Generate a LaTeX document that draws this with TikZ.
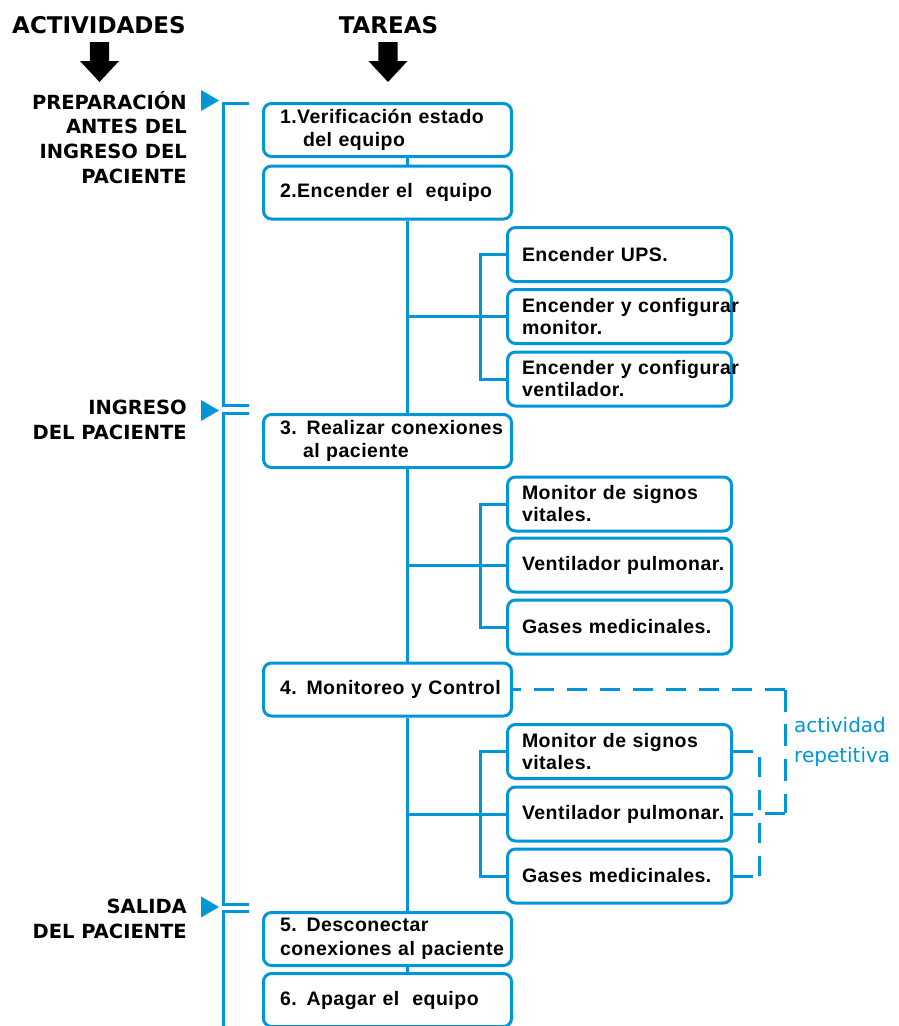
\documentclass[tikz,border=0pt]{standalone}
\usepackage{fontspec}
\setmainfont{Liberation Sans}
\newfontfamily\boxfont{Liberation Sans}[LetterSpace=2.5]
\newfontfamily\headfont{DejaVu Sans}
\definecolor{lineblue}{RGB}{0,150,215}
\begin{document}
\begin{tikzpicture}[x=1pt, y=-1pt]
    \tikzset{
      mainbox/.style={draw=lineblue, line width=3pt, rounded corners=8pt,
        minimum width=248pt, minimum height=53pt, inner xsep=16.5pt, inner ysep=2pt,
        text width=215pt, align=left,
        font=\boxfont\bfseries\fontsize{19.5}{23.5}\selectfont},
      subbox/.style={mainbox, minimum width=224pt, minimum height=54pt,
        inner xsep=14.5pt, text width=195pt,
        font=\boxfont\bfseries\fontsize{19.5}{22}\selectfont},
      link/.style={lineblue, line width=3pt},
      repeatlink/.style={link, dash pattern=on 20pt off 13pt},
      actlabel/.style={font=\headfont\bfseries\fontsize{19.5}{24.7}\selectfont,
        align=right, inner sep=0pt},
      headlabel/.style={font=\headfont\bfseries\fontsize{23}{27}\selectfont, inner sep=0pt}
    }
    \useasboundingbox (0,0) rectangle (898,1026);
    % headings
    \node[headlabel] (act) at (99,25) {ACTIVIDADES};
    \node[headlabel] (tar) at (388.5,25) {TAREAS};
    \foreach \x in {99.5,388}
      \fill (\x-9.7,42) -- (\x+9.7,42) -- (\x+9.7,61) -- (\x+19.5,61)
        -- (\x,82) -- (\x-19.5,61) -- (\x-9.7,61) -- cycle;
    % activities
    \node[actlabel, anchor=north east] (prep) at (187,91) {PREPARACIÓN\\ANTES DEL\\INGRESO DEL\\PACIENTE};
    \node[actlabel, anchor=north east] (ingr) at (187,400) {INGRESO\\DEL PACIENTE};
    \node[actlabel, anchor=north east] (sal) at (187,899) {SALIDA\\DEL PACIENTE};
    \foreach \y in {100.5,410.5,907}
      \fill[lineblue] (201,\y-10.5) -- (219,\y) -- (201,\y+10.5) -- cycle;
    \draw[link] (249,103) -- (223,103) -- (223,405) -- (249,405);
    \draw[link] (249,413) -- (223,413) -- (223,904) -- (249,904);
    \draw[link] (249,911) -- (223,911) -- (223,1032);
    % tasks
    \node[mainbox] (t1) at (387.5,130) {1.Verificación estado\\\hspace*{23pt}del equipo};
    \node[mainbox] (t2) at (387.5,192.5) {2.Encender el\ \ equipo};
    \node[mainbox] (t3) at (387.5,441) {\mbox{3. Realizar conexiones}\\\hspace*{23pt}al paciente};
    \node[mainbox] (t4) at (387.5,689.5) {\mbox{4. Monitoreo y Control}};
    \node[mainbox] (t5) at (387.5,939) {5. Desconectar\\\mbox{conexiones al paciente}};
    \node[mainbox] (t6) at (387.5,1000) {6. Apagar el\ \ equipo};
    \node[subbox] (u1) at (619.5,254.5) {Encender UPS.};
    \node[subbox] (u2) at (619.5,316.5) {\mbox{Encender y configurar}\\monitor.};
    \node[subbox] (u3) at (619.5,379) {\mbox{Encender y configurar}\\ventilador.};
    \node[subbox] (v1) at (619.5,504) {Monitor de signos\\vitales.};
    \node[subbox] (v2) at (619.5,565) {\mbox{Ventilador pulmonar.}};
    \node[subbox] (v3) at (619.5,627) {\mbox{Gases medicinales.}};
    \node[subbox] (w1) at (619.5,751.5) {Monitor de signos\\vitales.};
    \node[subbox] (w2) at (619.5,814) {\mbox{Ventilador pulmonar.}};
    \node[subbox] (w3) at (619.5,876) {\mbox{Gases medicinales.}};
    \coordinate (trunk) at (407,0);
    \coordinate (fork) at (480,0);
    \draw[link] (t1.south -| trunk) -- (t2.north -| trunk);
    \draw[link] (t2.south -| trunk) -- (t3.north -| trunk);
    \draw[link] (t3.south -| trunk) -- (t4.north -| trunk);
    \draw[link] (t4.south -| trunk) -- (t5.north -| trunk);
    \draw[link] (t5.south -| trunk) -- (t6.north -| trunk);
    \foreach \a/\b/\c in {u1/u2/u3, v1/v2/v3, w1/w2/w3} {
      \draw[link] (\a.west) -- (\a.west -| fork) -- (\c.west -| fork) -- (\c.west);
      \draw[link] (\b.west -| trunk) -- (\b.west);
    }
    % repeated activity
    \foreach \n in {w1,w2,w3}
      \draw[link] (\n.east) -- ++(20,0);
    \draw[repeatlink] (759,757) -- (759,877);
    \coordinate (rtop) at (785,689.5);
    \coordinate (rbot) at (785,813);
    \draw[repeatlink, dash phase=12pt] (t4.east) -- (rtop);
    \draw[link, dash pattern=on 22pt off 12.7pt] (rtop) -- (rbot);
    \draw[link] (rbot) -- ++(-20,0);
    \node[anchor=west, align=left, inner sep=0pt, text=lineblue,
      font=\headfont\fontsize{20}{29.5}\selectfont] (rep) at (794,742) {actividad\\repetitiva};
\end{tikzpicture}
\end{document}
